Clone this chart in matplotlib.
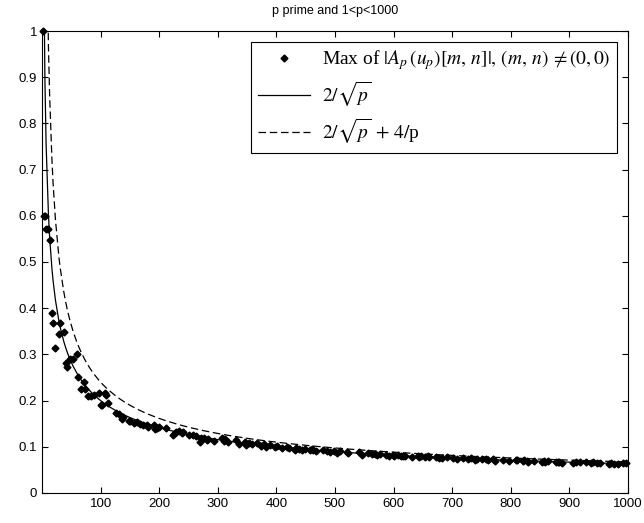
import matplotlib
matplotlib.use("Agg")
import matplotlib.pyplot as plt
import numpy as np

plt.rcParams['font.family'] = ['Liberation Sans', 'DejaVu Sans']
plt.rcParams['mathtext.fontset'] = 'stix'

# primes below 1000
primes = [2, 3, 5, 7, 11, 13, 17, 19, 23, 29, 31, 37, 41, 43, 47, 53, 59, 61, 67, 71, 73, 79, 83, 89, 97,
          101, 103, 107, 109, 113, 127, 131, 137, 139, 149, 151, 157, 163, 167, 173, 179, 181, 191, 193, 197, 199,
          211, 223, 227, 229, 233, 239, 241, 251, 257, 263, 269, 271, 277, 281, 283, 293,
          307, 311, 313, 317, 331, 337, 347, 349, 353, 359, 367, 373, 379, 383, 389, 397,
          401, 409, 419, 421, 431, 433, 439, 443, 449, 457, 461, 463, 467, 479, 487, 491, 499,
          503, 509, 521, 523, 541, 547, 557, 563, 569, 571, 577, 587, 593, 599,
          601, 607, 613, 617, 619, 631, 641, 643, 647, 653, 659, 661, 673, 677, 683, 691,
          701, 709, 719, 727, 733, 739, 743, 751, 757, 761, 769, 773, 787, 797,
          809, 811, 821, 823, 827, 829, 839, 853, 857, 859, 863, 877, 881, 883, 887,
          907, 911, 919, 929, 937, 941, 947, 953, 967, 971, 977, 983, 991, 997]

# max of |A_p(u_p)[m,n]|
max_vals = [1.000, 0.600, 0.600, 0.571, 0.571, 0.548, 0.389, 0.369, 0.313, 0.344, 0.369, 0.348, 0.282,
            0.272, 0.290, 0.290, 0.300, 0.252, 0.224, 0.240, 0.224, 0.210, 0.210, 0.212, 0.216,
            0.190, 0.190, 0.216, 0.212, 0.194, 0.174, 0.172, 0.160, 0.165, 0.156, 0.156, 0.152, 0.154,
            0.150, 0.147, 0.147, 0.143, 0.147, 0.138, 0.140, 0.142,
            0.140, 0.126, 0.130, 0.132, 0.135, 0.130, 0.133, 0.126, 0.126, 0.124, 0.111, 0.118, 0.120,
            0.115, 0.116, 0.113,
            0.118, 0.112, 0.116, 0.110, 0.114, 0.107, 0.110, 0.104, 0.108, 0.106, 0.108, 0.102, 0.105,
            0.100, 0.104, 0.099,
            0.102, 0.097, 0.100, 0.098, 0.094, 0.097, 0.096, 0.093, 0.096, 0.092, 0.095, 0.093, 0.091,
            0.094, 0.090, 0.088, 0.091,
            0.087, 0.090, 0.089, 0.086, 0.088, 0.083, 0.086, 0.084, 0.085, 0.082, 0.084, 0.083, 0.081, 0.083,
            0.080, 0.082, 0.080, 0.081, 0.079, 0.077, 0.079, 0.077, 0.079, 0.078, 0.080, 0.077, 0.078,
            0.076, 0.075, 0.077,
            0.076, 0.074, 0.075, 0.073, 0.075, 0.072, 0.074, 0.073, 0.074, 0.072, 0.073, 0.070, 0.072, 0.069,
            0.072, 0.071, 0.069, 0.072, 0.070, 0.068, 0.070, 0.068, 0.069, 0.067, 0.069, 0.068, 0.066,
            0.068, 0.065,
            0.065, 0.066, 0.067, 0.066, 0.065, 0.066, 0.064, 0.065, 0.063, 0.064, 0.062, 0.063, 0.064, 0.065]

p = np.array(primes, dtype=float)
bound1 = 2 / np.sqrt(p)
bound2 = 2 / np.sqrt(p) + 4 / p

fig = plt.figure(figsize=(6.44, 5.23), dpi=100)
ax = fig.add_axes([0.0652, 0.0574, 0.9098, 0.8833])

pts, = ax.plot(p, max_vals, 'kD', markersize=3.5,
               label=r'Max of $|A_p\,(u_p)[m,\, n]|,\,(m,\, n)\,\neq(0,0)$')
pts.set_clip_on(False)
ax.plot(p, bound1, 'k-', linewidth=0.9, label=r'$2/\sqrt{p}$')
ax.plot(p, bound2, 'k--', linewidth=0.9, dashes=(6, 3), label=r'$2/\sqrt{p}\,+\,4/$p')

ax.set_xlim(0, 1000)
ax.set_ylim(0, 1)
ax.set_xticks(range(100, 1001, 100))
ax.set_yticks(np.arange(0, 1.01, 0.1))
ax.set_yticklabels(['0', '0.1', '0.2', '0.3', '0.4', '0.5', '0.6', '0.7', '0.8', '0.9', '1'])
ax.tick_params(direction='in', top=True, right=True, labelsize=9.5, length=4)
for s in ax.spines.values():
    s.set_linewidth(0.8)

ax.set_title('p prime and 1<p<1000', fontsize=9, pad=12)

leg = ax.legend(loc='upper right', prop={'family': 'Liberation Serif', 'size': 14},
                handlelength=2.7, handletextpad=0.6, frameon=True,
                fancybox=False, framealpha=1, edgecolor='black', borderpad=0.35,
                labelspacing=0.4, bbox_to_anchor=(0.998, 0.998))
leg.get_frame().set_linewidth(0.8)

fig.savefig('out.png', dpi=100)
